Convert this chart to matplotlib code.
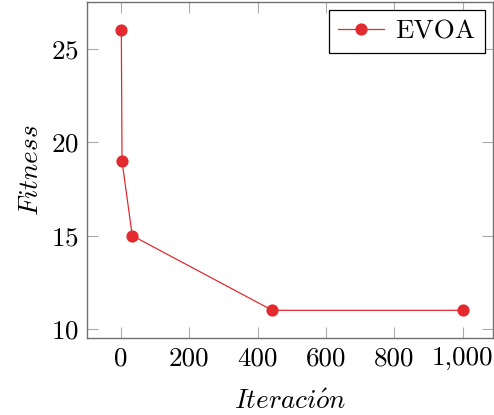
import matplotlib
matplotlib.use("Agg")
import matplotlib.pyplot as plt
from matplotlib.ticker import FuncFormatter

iterations = [1, 3, 33, 443, 1000]
fitness = [26, 19, 15, 11, 11]
series_label = "EVOA"
x_ticks = [0, 200, 400, 600, 800, 1000]
y_ticks = [10, 15, 20, 25]

plt.rcParams['font.family'] = ['cmr10', 'DejaVu Serif']
plt.rcParams['mathtext.fontset'] = 'cm'
plt.rcParams['axes.formatter.use_mathtext'] = True

fig = plt.figure(figsize=(4.94, 4.15), dpi=100)
ax = fig.add_axes([87.3/494, 1 - 338.3/415, (493 - 87.3)/494, (338.3 - 2)/415])

red = '#e32b2f'
ax.plot(iterations, fitness, color=red, lw=0.9, marker='o', markersize=8.8,
        markeredgewidth=0, label=series_label)

ax.set_xlim(-98.6, 1089)
ax.set_ylim(9.5, 27.52)
ax.set_xticks(x_ticks)
ax.set_yticks(y_ticks)
ax.xaxis.set_major_formatter(FuncFormatter(lambda v, p: f"{int(v):,}"))

ax.tick_params(direction='in', length=8, width=0.8, color='#aaaaaa',
               top=True, right=True, labelsize=19.5, pad=6)
for s in ax.spines.values():
    s.set_color('#707070')
    s.set_linewidth(1.0)

ax.set_xlabel(r'$Iteraci\acute{o}n$', fontsize=19.5, labelpad=14)
ax.set_ylabel(r'$Fitness$', fontsize=19.5, labelpad=6)

leg = ax.legend(loc='upper right', fontsize=19.5, frameon=True, fancybox=False,
                edgecolor='black', framealpha=1, handlelength=1.7,
                borderpad=0.35, borderaxespad=0.3, handletextpad=0.4)
leg.get_frame().set_linewidth(0.9)

fig.savefig('out.png', dpi=100)
